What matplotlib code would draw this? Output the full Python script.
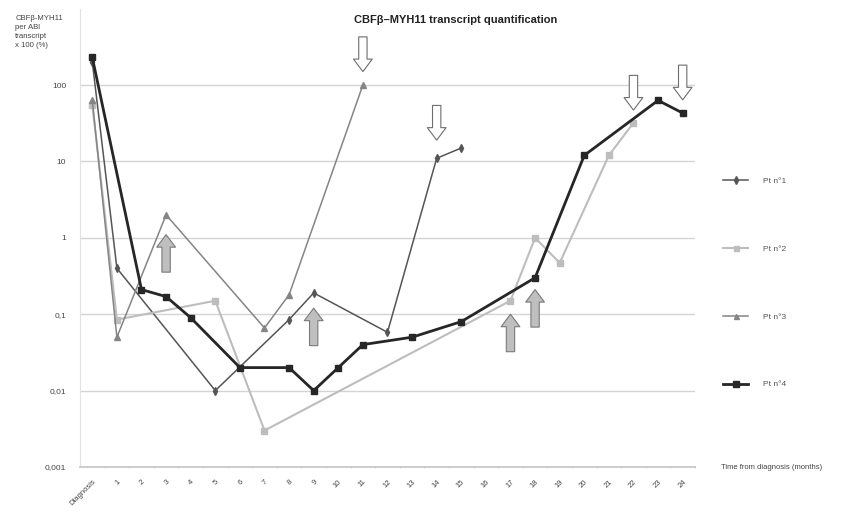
import numpy as np
import matplotlib
matplotlib.use("Agg")
import matplotlib.pyplot as plt

# ---------------------------------------------------------------------------
# Data: transcript level (% of ABL) at each follow-up month
# ---------------------------------------------------------------------------
CATEGORIES = ["Diagnosis"] + [str(m) for m in range(1, 25)]

PT1_X = [0, 1, 5, 8, 9, 12, 14, 15]
PT1_Y = [200, 0.4, 0.01, 0.085, 0.19, 0.058, 11, 15]

PT2_X = [0, 1, 5, 7, 17, 18, 19, 21, 22]
PT2_Y = [55, 0.085, 0.15, 0.003, 0.15, 1.0, 0.47, 12, 32]

PT3_X = [0, 1, 3, 7, 8, 11]
PT3_Y = [63, 0.05, 2.0, 0.066, 0.18, 100]

PT4_X = [0, 2, 3, 4, 6, 8, 9, 10, 11, 13, 15, 18, 20, 23, 24]
PT4_Y = [230, 0.21, 0.17, 0.09, 0.02, 0.02, 0.01, 0.02, 0.04, 0.05,
         0.08, 0.30, 12, 63, 43]

# treatment (up) and relapse (down) markers: month, value at arrow tip
UP_ARROWS = [(3, 1.1), (9, 0.12), (17, 0.1), (18, 0.21)]
DOWN_ARROWS = [(11, 150), (14, 19), (22, 47), (24, 64)]

Y_TICKS = [0.001, 0.01, 0.1, 1, 10, 100]
Y_TICKLABELS = ["0,001", "0,01", "0,1", "1", "10", "100"]

plt.rcParams["font.family"] = ["Liberation Sans", "DejaVu Sans"]

fig = plt.figure(figsize=(8.43, 5.22), dpi=100)
ax = fig.add_axes([0.0949, 0.1054, 0.7295, 0.878])

series = [
    ("Pt n°1", PT1_X, PT1_Y, "#555555", 1.1, "d", 4, 0),
    ("Pt n°2", PT2_X, PT2_Y, "#bdbdbd", 1.5, "s", 4, 1),
    ("Pt n°3", PT3_X, PT3_Y, "#858585", 1.1, "^", 4, 2),
    ("Pt n°4", PT4_X, PT4_Y, "#262626", 2.0, "s", 4.5, 3),
]
for label, xs, ys, color, lw, marker, ms, z in series:
    ax.plot(xs, ys, color=color, lw=lw, marker=marker, ms=ms,
            mfc=color, mec=color, label=label, zorder=3 + z)

# arrows for therapy (grey, pointing up) and relapse (white, pointing down)
style = "simple,head_length=0.9,head_width=1.35,tail_width=0.6"
for month, val in UP_ARROWS:
    ax.annotate("", xy=(month, val), xytext=(0, -27), textcoords="offset points",
                arrowprops=dict(arrowstyle=style, fc="#bfbfbf", ec="#7a7a7a",
                                lw=0.8, shrinkA=0, shrinkB=0), zorder=8)
for month, val in DOWN_ARROWS:
    ax.annotate("", xy=(month, val), xytext=(0, 25), textcoords="offset points",
                arrowprops=dict(arrowstyle=style, fc="white", ec="#6e6e6e",
                                lw=0.8, shrinkA=0, shrinkB=0), zorder=8)

ax.set_yscale("log")
ax.set_ylim(0.001, 1000)
ax.set_xlim(-0.5, len(CATEGORIES) - 0.5)
ax.set_yticks(Y_TICKS)
ax.set_yticklabels(Y_TICKLABELS)
ax.yaxis.set_minor_locator(matplotlib.ticker.NullLocator())
ax.tick_params(axis="y", length=0, pad=10, labelsize=6, labelcolor="#444444")

ax.set_xticks(np.arange(len(CATEGORIES)))
ax.set_xticklabels(CATEGORIES, rotation=45, ha="right", rotation_mode="anchor")
ax.tick_params(axis="x", length=0, pad=8, labelsize=5.5, labelcolor="#444444")
ax.set_xticks(np.arange(len(CATEGORIES)) + 0.5, minor=True)
ax.tick_params(axis="x", which="minor", length=2, color="#cccccc", direction="inout")

ax.grid(axis="y", which="major", color="#d4d4d4", lw=1)
ax.set_axisbelow(True)
for side in ("top", "right"):
    ax.spines[side].set_visible(False)
ax.spines["left"].set_color("#e2e2e2")
ax.spines["bottom"].set_color("#c4c4c4")
ax.spines["bottom"].set_linewidth(1.2)

fig.text(0.54, 0.962, "CBFβ–MYH11 transcript quantification", ha="center",
         va="center", fontsize=8, fontweight="bold", color="#222222",
         family=["Liberation Sans Narrow", "Liberation Sans", "DejaVu Sans"])
fig.text(0.018, 0.972, "CBFβ-MYH11\nper ABl\ntranscript\nx 100 (%)",
         ha="left", va="top", fontsize=5.6, color="#444444", linespacing=1.45)
fig.text(0.855, 0.105, "Time from diagnosis (months)", ha="left", va="center",
         fontsize=5.5, color="#444444")

ax.legend(loc="upper left", bbox_to_anchor=(0.849, 0.675),
          bbox_transform=fig.transFigure, frameon=False, fontsize=6,
          labelspacing=7.2, handlelength=3, handletextpad=1.8,
          labelcolor="#555555", markerscale=0.9)

fig.savefig("out.png", dpi=100)
